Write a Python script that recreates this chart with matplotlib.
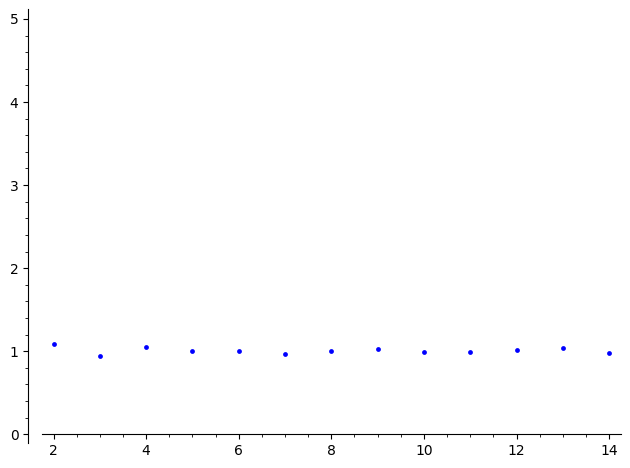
import matplotlib
matplotlib.use("Agg")
import matplotlib.pyplot as plt
from matplotlib.ticker import MultipleLocator

# values
n_vals = [2, 3, 4, 5, 6, 7, 8, 9, 10, 11, 12, 13, 14]
ratio = [1.087, 0.937, 1.047, 1.007, 0.999, 0.967, 1.007, 1.031, 0.995, 0.991, 1.015, 1.043, 0.975]

fig = plt.figure(figsize=(6.3, 4.68), dpi=100)
ax = fig.add_axes([0.0667, 0.0534, 0.9185, 0.9274])

ax.scatter(n_vals, ratio, s=12, color=(0, 0, 1), linewidths=0, zorder=3)

ax.set_xlim(1.75, 14.25)
ax.set_ylim(-0.105, 5.12)

# sage-like axes
ax.spines["top"].set_visible(False)
ax.spines["right"].set_visible(False)
ax.spines["left"].set_position(("outward", 10))
ax.spines["bottom"].set_position(("data", 0))

ax.xaxis.set_major_locator(MultipleLocator(2))
ax.xaxis.set_minor_locator(MultipleLocator(0.5))
ax.yaxis.set_major_locator(MultipleLocator(1))
ax.yaxis.set_minor_locator(MultipleLocator(0.2))
ax.tick_params(labelsize=10)

fig.savefig("out.png", dpi=100)
